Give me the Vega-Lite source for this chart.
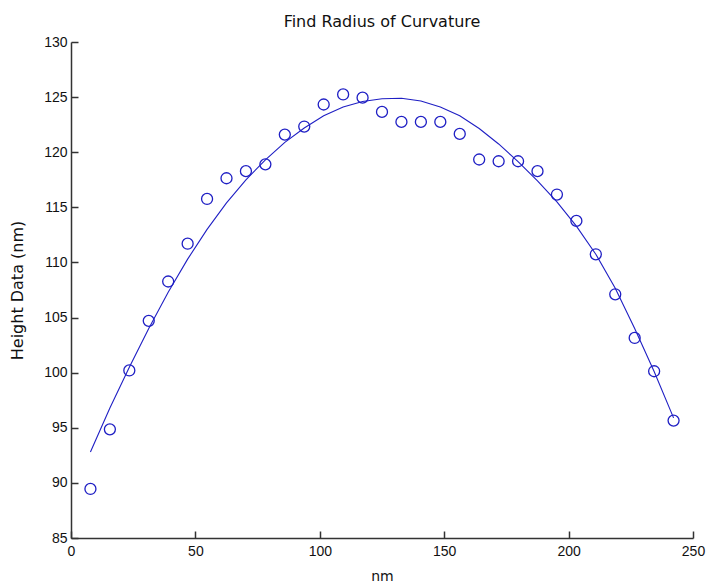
{
  "$schema": "https://vega.github.io/schema/vega-lite/v6.json",
  "width": 622,
  "height": 496,
  "autosize": {"type": "none"},
  "padding": {"left": 71, "top": 42, "right": 16, "bottom": 46},
  "background": "white",
  "title": {
    "text": "Find Radius of Curvature",
    "font": "DejaVu Sans",
    "fontSize": 16,
    "fontWeight": "normal",
    "color": "#111111",
    "anchor": "middle",
    "frame": "group",
    "baseline": "alphabetic",
    "offset": 14,
    "dy": 22
  },
  "config": {
    "view": {"stroke": null},
    "axis": {
      "grid": false,
      "domainColor": "#333333",
      "domainWidth": 1.5,
      "tickColor": "#333333",
      "tickWidth": 1.5,
      "tickSize": -7,
      "labelFont": "Liberation Sans",
      "labelFontSize": 14,
      "labelColor": "#111111",
      "labelFlush": false,
      "labelOverlap": false,
      "titleFont": "DejaVu Sans",
      "titleFontWeight": "normal",
      "titleColor": "#111111"
    }
  },
  "datasets": {
    "measured": [
      {"x": 7.81, "height": 89.45},
      {"x": 15.63, "height": 94.86},
      {"x": 23.44, "height": 100.2},
      {"x": 31.25, "height": 104.7},
      {"x": 39.06, "height": 108.27},
      {"x": 46.88, "height": 111.7},
      {"x": 54.69, "height": 115.76},
      {"x": 62.5, "height": 117.64},
      {"x": 70.31, "height": 118.28},
      {"x": 78.13, "height": 118.9},
      {"x": 85.94, "height": 121.6},
      {"x": 93.75, "height": 122.33},
      {"x": 101.56, "height": 124.33},
      {"x": 109.38, "height": 125.24},
      {"x": 117.19, "height": 124.95},
      {"x": 125.0, "height": 123.66},
      {"x": 132.81, "height": 122.75},
      {"x": 140.63, "height": 122.75},
      {"x": 148.44, "height": 122.75},
      {"x": 156.25, "height": 121.66},
      {"x": 164.06, "height": 119.34},
      {"x": 171.88, "height": 119.18},
      {"x": 179.69, "height": 119.18},
      {"x": 187.5, "height": 118.28},
      {"x": 195.31, "height": 116.16},
      {"x": 203.13, "height": 113.77},
      {"x": 210.94, "height": 110.74},
      {"x": 218.75, "height": 107.11},
      {"x": 226.56, "height": 103.15},
      {"x": 234.38, "height": 100.13},
      {"x": 242.19, "height": 95.65}
    ],
    "fitted": [
      {"x": 7.81, "height": 92.8},
      {"x": 15.63, "height": 96.8},
      {"x": 23.44, "height": 100.5},
      {"x": 31.25, "height": 104.0},
      {"x": 39.06, "height": 107.3},
      {"x": 46.88, "height": 110.3},
      {"x": 54.69, "height": 113.0},
      {"x": 62.5, "height": 115.4},
      {"x": 70.31, "height": 117.5},
      {"x": 78.13, "height": 119.3},
      {"x": 85.94, "height": 120.9},
      {"x": 93.75, "height": 122.2},
      {"x": 101.56, "height": 123.3},
      {"x": 109.38, "height": 124.1},
      {"x": 117.19, "height": 124.6},
      {"x": 125.0, "height": 124.85},
      {"x": 132.81, "height": 124.9},
      {"x": 140.63, "height": 124.65},
      {"x": 148.44, "height": 124.1},
      {"x": 156.25, "height": 123.3},
      {"x": 164.06, "height": 122.15},
      {"x": 171.88, "height": 120.75},
      {"x": 179.69, "height": 119.15},
      {"x": 187.5, "height": 117.4},
      {"x": 195.31, "height": 115.5},
      {"x": 203.13, "height": 113.3},
      {"x": 210.94, "height": 110.75},
      {"x": 218.75, "height": 107.65},
      {"x": 226.56, "height": 104.0},
      {"x": 234.38, "height": 100.1},
      {"x": 242.19, "height": 95.9}
    ]
  },
  "encoding": {
    "x": {
      "field": "x",
      "type": "quantitative",
      "scale": {"domain": [0, 250], "nice": false, "zero": false},
      "axis": {
        "title": "nm",
        "values": [0, 50, 100, 150, 200, 250],
        "labelPadding": 13,
        "titleFontSize": 14,
        "titlePadding": 11
      }
    },
    "y": {
      "field": "height",
      "type": "quantitative",
      "scale": {"domain": [85, 130], "nice": false, "zero": false},
      "axis": {
        "title": "Height Data (nm)",
        "values": [85, 90, 95, 100, 105, 110, 115, 120, 125, 130],
        "labelPadding": 11,
        "titleFontSize": 16,
        "titlePadding": 18
      }
    }
  },
  "layer": [
    {
      "data": {"name": "fitted"},
      "mark": {"type": "line", "color": "#1f1fc4", "strokeWidth": 1.1}
    },
    {
      "data": {"name": "measured"},
      "mark": {
        "type": "point",
        "shape": "circle",
        "filled": false,
        "color": "#1f1fc4",
        "size": 121,
        "strokeWidth": 1.3,
        "opacity": 1
      }
    }
  ]
}
